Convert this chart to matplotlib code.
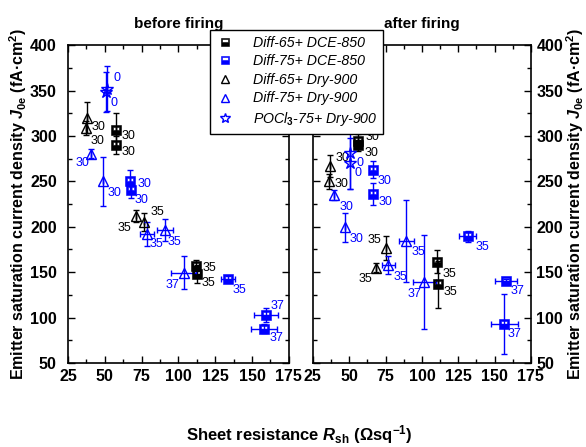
import matplotlib

matplotlib.use("Agg")
import matplotlib.pyplot as plt
from matplotlib.path import Path
from matplotlib.ticker import MultipleLocator

plt.rcParams.update({
    "font.family": ["Liberation Sans", "DejaVu Sans"],
    "font.weight": "bold",
    "axes.labelweight": "bold",
    "mathtext.fontset": "custom",
    "mathtext.rm": "Liberation Sans:bold",
    "mathtext.bf": "Liberation Sans:bold",
    "mathtext.it": "Liberation Sans:italic:bold",
    "mathtext.bfit": "Liberation Sans:italic:bold",
})

BLUE = "#0000ff"
SERIES_NAMES = ["Diff-65+ DCE-850", "Diff-75+ DCE-850", "Diff-65+ Dry-900",
                "Diff-75+ Dry-900", "POCl$_3$-75+ Dry-900"]

# ── before firing ────────────────────────────────────────────
b_d65_dce_x = [57.5, 57.5, 112.0, 112.7]
b_d65_dce_y = [307, 290, 157.3, 148.3]
b_d65_dce_xe = [0, 0, 2, 2]
b_d65_dce_ye = [18, 10, 6, 10]
b_d65_dce_lab = ["30", "30", "35", "35"]

b_d75_dce_x = [67.3, 67.5, 133.6, 159.3, 158.0]
b_d75_dce_y = [250, 240, 142.3, 103, 87.7]
b_d75_dce_xe = [0, 0, 4.8, 8, 9]
b_d75_dce_ye = [12, 8, 3, 8, 5]
b_d75_dce_lab = ["30", "30", "35", "37", "37"]

b_d65_dry_x = [38.2, 37.0, 71.1, 76.8]
b_d65_dry_y = [320, 309, 211.7, 205]
b_d65_dry_xe = [0, 0, 0, 0]
b_d65_dry_ye = [17, 8, 7, 10]
b_d65_dry_lab = ["30", "30", "35", "35"]

b_d75_dry_x = [40.9, 48.9, 78.6, 90.9, 103.6]
b_d75_dry_y = [280.3, 250, 191.7, 196.7, 149.3]
b_d75_dry_xe = [0, 0, 4.5, 5.3, 8.5]
b_d75_dry_ye = [5, 27, 13, 12, 18]
b_d75_dry_lab = ["30", "30", "35", "35", "37"]

b_pocl_x = [51.5, 50.5]
b_pocl_y = [352, 348]
b_pocl_xe = [0, 0]
b_pocl_ye = [25, 22]
b_pocl_lab = ["0", "0"]

# ── after firing ─────────────────────────────────────────────
a_d65_dce_x = [56.1, 56.1, 110.7, 111.1]
a_d65_dce_y = [294.5, 289.5, 161.7, 136.7]
a_d65_dce_xe = [0, 0, 0, 0]
a_d65_dce_ye = [8, 6, 13, 26]
a_d65_dce_lab = ["30", "30", "35", "35"]

a_d75_dce_x = [66.5, 66.5, 131.4, 158.0, 156.8]
a_d75_dce_y = [263, 236, 189.3, 140, 93.3]
a_d75_dce_xe = [0, 0, 6, 7.5, 9.3]
a_d75_dce_ye = [9, 12, 6, 3, 33]
a_d75_dce_lab = ["30", "30", "35", "37", "37"]

a_d65_dry_x = [36.8, 35.9, 75.5, 68.6]
a_d65_dry_y = [266.5, 250, 176.7, 155]
a_d65_dry_xe = [0, 0, 0, 0]
a_d65_dry_ye = [12, 8, 13, 5]
a_d65_dry_lab = ["30", "30", "35", "35"]

a_d75_dry_x = [39.8, 47.3, 76.8, 89.3, 101.6]
a_d75_dry_y = [235, 199.3, 158.3, 184, 139.3]
a_d75_dry_xe = [0, 0, 4.5, 5, 8]
a_d75_dry_ye = [5, 16, 10, 45, 52]
a_d75_dry_lab = ["30", "30", "35", "35", "37"]

a_pocl_x = [50.7, 50.7]
a_pocl_y = [281.3, 269.8]
a_pocl_xe = [0, 0]
a_pocl_ye = [40, 28]
a_pocl_lab = ["0", "0"]

# label offsets in pixels (dx, dy, ha) — layout only
b_offsets = [
    [(6, -6, "left"), (6, -7, "left"), (6, -2, "left"), (4, -9, "left")],
    [(7, -3, "left"), (4, -10, "left"), (5, -11, "left"), (5, 9, "left"), (6, -9, "left")],
    [(4, -9, "left"), (5, -13, "left"), (-5, -12, "right"), (6, 10, "left")],
    [(-2, -9, "right"), (4, -12, "left"), (3, -10, "left"), (3, -12, "left"), (-4, -12, "right")],
    [(6, 11, "left"), (5, -11, "left")],
]
a_offsets = [
    [(7, 4, "left"), (6, -8, "left"), (5, -12, "left"), (6, -8, "left")],
    [(4, -11, "left"), (5, -8, "left"), (8, -11, "left"), (4, -10, "left"), (3, -10, "left")],
    [(5, 8, "left"), (6, -3, "left"), (-5, 8, "right"), (-4, -11, "right")],
    [(5, -12, "left"), (4, -12, "left"), (5, -12, "left"), (5, -11, "left"), (-3, -12, "right")],
    [(6, -10, "left"), (4, -10, "left")],
]

# half-filled square marker: solid square with a white band near the top
_outer = [(-1, -1), (1, -1), (1, 1), (-1, 1), (-1, -1)]
_inner = [(-0.7, 0.05), (-0.7, 0.75), (0.7, 0.75), (0.7, 0.05), (-0.7, 0.05)]
SQ = Path(_outer + _inner,
          [Path.MOVETO] + [Path.LINETO] * 3 + [Path.CLOSEPOLY]
          + [Path.MOVETO] + [Path.LINETO] * 3 + [Path.CLOSEPOLY])

STYLES = [
    dict(marker=SQ, color="black", mfc="black", ms=6.5, mew=0.4),
    dict(marker=SQ, color=BLUE, mfc=BLUE, ms=6.5, mew=0.4),
    dict(marker="^", color="black", mfc="none", ms=7.5, mew=1.0),
    dict(marker="^", color=BLUE, mfc="none", ms=7.5, mew=1.0),
    dict(marker="*", color=BLUE, mfc="none", ms=9, mew=1.0),
]

before = [
    (b_d65_dce_x, b_d65_dce_y, b_d65_dce_xe, b_d65_dce_ye, b_d65_dce_lab),
    (b_d75_dce_x, b_d75_dce_y, b_d75_dce_xe, b_d75_dce_ye, b_d75_dce_lab),
    (b_d65_dry_x, b_d65_dry_y, b_d65_dry_xe, b_d65_dry_ye, b_d65_dry_lab),
    (b_d75_dry_x, b_d75_dry_y, b_d75_dry_xe, b_d75_dry_ye, b_d75_dry_lab),
    (b_pocl_x, b_pocl_y, b_pocl_xe, b_pocl_ye, b_pocl_lab),
]
after = [
    (a_d65_dce_x, a_d65_dce_y, a_d65_dce_xe, a_d65_dce_ye, a_d65_dce_lab),
    (a_d75_dce_x, a_d75_dce_y, a_d75_dce_xe, a_d75_dce_ye, a_d75_dce_lab),
    (a_d65_dry_x, a_d65_dry_y, a_d65_dry_xe, a_d65_dry_ye, a_d65_dry_lab),
    (a_d75_dry_x, a_d75_dry_y, a_d75_dry_xe, a_d75_dry_ye, a_d75_dry_lab),
    (a_pocl_x, a_pocl_y, a_pocl_xe, a_pocl_ye, a_pocl_lab),
]

fig = plt.figure(figsize=(5.86, 4.47), dpi=100)
ax1 = fig.add_axes([0.116, 0.188, 0.377, 0.711])
ax2 = fig.add_axes([0.534, 0.188, 0.372, 0.711])

YLABEL = r"Emitter saturation current density $\mathbfit{J}_{\mathbf{0e}}$ (fA·cm$^{\mathbf{2}}$)"

handles = []
for ax, groups, offsets, title in [(ax1, before, b_offsets, "before firing"),
                                   (ax2, after, a_offsets, "after firing")]:
    for (x, y, xe, ye, lab), st, offs in zip(groups, STYLES, offsets):
        ax.errorbar(x, y, xerr=xe, yerr=ye, fmt="none", ecolor=st["color"],
                    elinewidth=1.0, capsize=2.5, capthick=1.0, zorder=2)
        ln, = ax.plot(x, y, linestyle="none", marker=st["marker"], ms=st["ms"],
                      mec=st["color"], mfc=st["mfc"], mew=st["mew"], zorder=3)
        if ax is ax1:
            handles.append(ln)
        for xi, yi, t, (dx, dy, ha) in zip(x, y, lab, offs):
            ax.annotate(t, (xi, yi), xytext=(dx, dy), textcoords="offset pixels",
                        ha=ha, va="center", fontsize=9, fontweight="normal",
                        color=st["color"])
    ax.set_xlim(25, 175)
    ax.set_ylim(50, 400)
    ax.xaxis.set_major_locator(MultipleLocator(25))
    ax.xaxis.set_minor_locator(MultipleLocator(12.5))
    ax.yaxis.set_major_locator(MultipleLocator(50))
    ax.yaxis.set_minor_locator(MultipleLocator(25))
    ax.tick_params(which="both", direction="in", top=True, right=True,
                   labelsize=11.5, width=1.0)
    ax.tick_params(which="major", length=5, pad=4)
    ax.tick_params(which="minor", length=3)
    for lbl in ax.get_xticklabels() + ax.get_yticklabels():
        lbl.set_fontweight("bold")
    for sp in ax.spines.values():
        sp.set_linewidth(1.2)
    ax.set_title(title, fontsize=11, fontweight="bold", pad=12)

ax1.tick_params(axis="y", pad=8)
ax1.set_ylabel(YLABEL, fontsize=11.5, fontweight="bold", labelpad=1)
ax2.tick_params(labelleft=False, labelright=True)
ax2.yaxis.set_label_position("right")
ax2.set_ylabel(YLABEL, fontsize=11.5, fontweight="bold", rotation=90, labelpad=1)

fig.text(0.51, 0.003, r"Sheet resistance $\mathbfit{R}_{\mathbf{sh}}$ ($\mathbf{\Omega sq}^{\mathbf{-1}}$)",
         ha="center", va="bottom", fontsize=12, fontweight="bold")

leg = fig.legend(handles, SERIES_NAMES, loc="upper left",
                 bbox_to_anchor=(0.358, 0.933), borderaxespad=0.0,
                 frameon=True, fancybox=False,
                 edgecolor="black", framealpha=1.0, borderpad=0.42,
                 handlelength=1.3, handletextpad=1.3, labelspacing=0.32,
                 markerscale=0.8,
                 prop={"style": "italic", "weight": "normal", "size": 10.2})
leg.get_frame().set_linewidth(1.0)
leg.set_zorder(10)

fig.savefig("out.png", dpi=100)
